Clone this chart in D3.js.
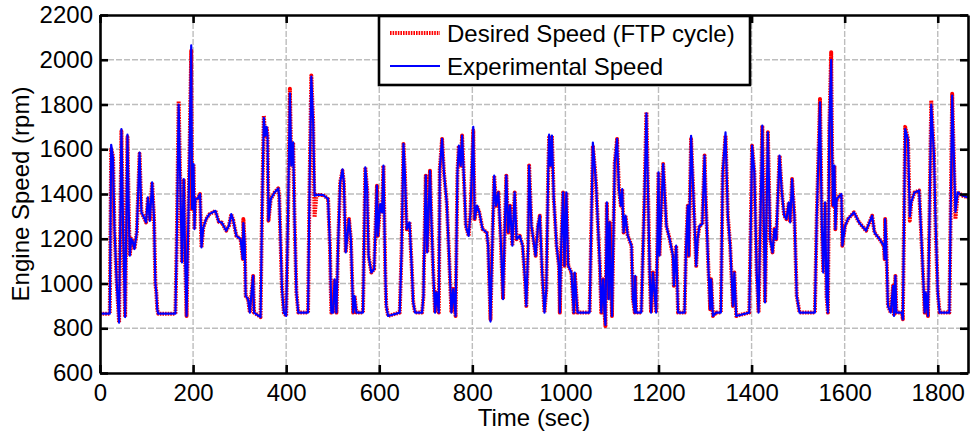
<!DOCTYPE html>
<html>
<head>
<meta charset="utf-8">
<script src="https://cdn.jsdelivr.net/npm/d3@7"></script>
<style>
  body { margin: 0; background: #fff; }
  svg { font-family: "Liberation Sans", Arial, sans-serif; }
</style>
</head>
<body>
<svg id="chart" width="970" height="435"></svg>
<script>
// time stamps (s), shared by both traces
const timeSec = [
  0, 21, 24, 28, 31, 36, 41, 46, 50, 54,
  59, 62, 64, 67, 70, 74, 79, 85, 89, 96,
  99, 103, 107, 112, 116, 119, 121, 123, 125, 162,
  165, 169, 173, 176, 180, 183, 186, 190, 196, 198,
  201, 203, 205, 210, 215, 218, 222, 228, 235, 248,
  255, 262, 271, 277, 282, 286, 293, 302, 307, 308,
  311, 313, 318, 322, 325, 329, 331, 345, 348, 352,
  355, 358, 360, 362, 367, 375, 383, 385, 391, 395,
  400, 404, 408, 411, 415, 418, 422, 426, 447, 450,
  454, 458, 461, 465, 479, 486, 490, 494, 496, 497,
  501, 504, 508, 512, 516, 521, 524, 528, 535, 539,
  544, 547, 551, 565, 570, 574, 577, 583, 589, 595,
  597, 602, 606, 609, 613, 615, 619, 644, 648, 652,
  655, 659, 665, 670, 673, 677, 692, 695, 696, 700,
  703, 709, 712, 716, 720, 723, 728, 730, 735, 739,
  745, 750, 755, 759, 764, 768, 771, 775, 778, 782,
  786, 792, 796, 802, 805, 810, 815, 822, 831, 834,
  839, 843, 847, 851, 856, 861, 866, 870, 873, 877,
  881, 886, 891, 895, 902, 908, 913, 916, 920, 922,
  927, 936, 941, 945, 950, 955, 959, 963, 965, 968,
  971, 975, 981, 986, 988, 991, 995, 998, 1002, 1006,
  1013, 1018, 1020, 1026, 1052, 1059, 1064, 1066, 1074, 1077,
  1081, 1084, 1086, 1089, 1093, 1095, 1100, 1106, 1111, 1115,
  1119, 1122, 1125, 1129, 1134, 1142, 1145, 1149, 1150, 1152,
  1163, 1170, 1174, 1181, 1184, 1188, 1195, 1200, 1202, 1210,
  1217, 1224, 1231, 1233, 1238, 1242, 1256, 1259, 1263, 1265,
  1270, 1277, 1281, 1284, 1288, 1294, 1299, 1302, 1307, 1311,
  1313, 1317, 1324, 1334, 1338, 1344, 1349, 1354, 1360, 1363,
  1367, 1395, 1399, 1401, 1406, 1411, 1415, 1423, 1429, 1435,
  1440, 1445, 1449, 1453, 1460, 1465, 1470, 1475, 1480, 1483,
  1487, 1492, 1497, 1503, 1536, 1540, 1547, 1551, 1554, 1558,
  1561, 1564, 1567, 1571, 1573, 1575, 1578, 1580, 1583, 1589,
  1593, 1595, 1601, 1607, 1620, 1631, 1646, 1659, 1664, 1675,
  1684, 1686, 1687, 1689, 1693, 1699, 1704, 1706, 1709, 1711,
  1723, 1725, 1730, 1736, 1740, 1743, 1750, 1760, 1765, 1772,
  1774, 1779, 1786, 1792, 1795, 1800, 1804, 1825, 1831, 1838,
  1843, 1854, 1865
];

// desired engine speed, FTP cycle (rpm)
const desiredRpm = [
  865, 865, 1600, 1570, 1243, 1000, 825, 1680, 1200, 850,
  1655, 1300, 1124, 1200, 1190, 1154, 1228, 1580, 1318, 1288,
  1273, 1385, 1280, 1452, 1296, 1000, 960, 885, 865, 865,
  1200, 1815, 1400, 1094, 1467, 1100, 855, 1300, 2040, 1333,
  1534, 1243, 1378, 1380, 1400, 1161, 1250, 1288, 1310, 1325,
  1276, 1272, 1236, 1258, 1310, 1285, 1213, 1198, 1109, 1288,
  1180, 945, 930, 870, 944, 1034, 870, 850, 1300, 1751,
  1661, 1700, 1661, 1281, 1378, 1407, 1425, 1392, 975, 870,
  855, 1300, 1870, 1527, 1631, 1288, 960, 870, 870, 1400,
  1930, 1721, 1296, 1396, 1396, 1385, 1378, 1169, 960, 870,
  870, 1019, 870, 1200, 1452, 1504, 1452, 1139, 1288, 1200,
  870, 944, 870, 870, 1519, 1422, 1124, 1049, 1064, 1437,
  1213, 1355, 1318, 1527, 1049, 900, 855, 870, 1150, 1624,
  1497, 1243, 1273, 1064, 915, 870, 870, 944, 1079, 1482,
  1139, 1504, 1288, 1049, 870, 960, 870, 1512, 1646, 1497,
  1363, 1124, 870, 975, 855, 1497, 1616, 1527, 1661, 1467,
  1258, 1213, 1318, 1684, 1288, 1348, 1318, 1243, 1228, 1169,
  840, 1184, 1482, 1348, 1407, 1198, 930, 1273, 1482, 1228,
  1348, 1169, 1407, 1198, 1213, 1169, 1019, 900, 1169, 1527,
  1258, 1124, 1258, 1303, 1049, 870, 975, 1497, 1654, 1527,
  1661, 1378, 1169, 1079, 870, 1169, 1407, 1079, 1407, 1079,
  1049, 870, 1049, 870, 870, 1616, 1497, 1437, 1079, 870,
  1019, 870, 810, 1363, 930, 1273, 855, 1542, 1646, 1422,
  1348, 1422, 1228, 1303, 1213, 1169, 930, 870, 1034, 870,
  870, 1400, 1766, 1049, 870, 1049, 870, 1497, 1124, 1534,
  1258, 1198, 1124, 990, 1169, 870, 870, 1150, 1348, 1124,
  1646, 1288, 1079, 1198, 1258, 1265, 1572, 1348, 1079, 885,
  1019, 855, 870, 870, 1497, 1661, 1303, 1169, 900, 1049,
  855, 870, 1348, 1616, 1497, 1049, 870, 1706, 915, 1676,
  1198, 1139, 1243, 1198, 1572, 1407, 1303, 1288, 1363, 1273,
  1467, 1303, 945, 870, 870, 1300, 1825, 1258, 1049, 1363,
  945, 870, 1700, 2034, 1591, 1348, 1527, 1243, 1378, 1392,
  1400, 1169, 1258, 1288, 1318, 1273, 1236, 1303, 1228, 1198,
  1169, 1109, 1288, 1198, 900, 870, 990, 855, 1034, 870,
  870, 840, 1700, 1646, 1281, 1363, 1407, 1415, 1198, 870,
  960, 855, 1818, 1572, 1273, 960, 870, 870, 1848, 1288,
  1407, 1392, 1385
];

// measured engine speed (rpm)
const experimentalRpm = [
  865, 865, 1620, 1560, 1250, 1000, 825, 1690, 1200, 850,
  1665, 1300, 1124, 1200, 1190, 1154, 1228, 1585, 1318, 1288,
  1273, 1385, 1280, 1452, 1296, 1000, 960, 885, 865, 865,
  1200, 1800, 1400, 1094, 1467, 1100, 855, 1300, 2064, 1333,
  1534, 1243, 1378, 1380, 1400, 1161, 1250, 1288, 1310, 1325,
  1276, 1272, 1236, 1258, 1310, 1285, 1213, 1198, 1109, 1270,
  1180, 945, 930, 870, 944, 1034, 870, 850, 1300, 1740,
  1661, 1700, 1661, 1281, 1378, 1407, 1425, 1392, 975, 870,
  855, 1300, 1850, 1527, 1631, 1288, 960, 870, 870, 1400,
  1925, 1721, 1392, 1396, 1396, 1385, 1378, 1169, 960, 870,
  870, 1019, 870, 1200, 1452, 1510, 1452, 1139, 1288, 1200,
  870, 944, 870, 870, 1519, 1422, 1124, 1049, 1064, 1437,
  1213, 1355, 1318, 1527, 1049, 900, 855, 870, 1150, 1624,
  1497, 1243, 1273, 1064, 915, 870, 870, 944, 1079, 1482,
  1139, 1504, 1288, 1049, 870, 960, 870, 1512, 1646, 1497,
  1363, 1124, 870, 975, 855, 1497, 1616, 1527, 1661, 1467,
  1258, 1213, 1318, 1700, 1288, 1348, 1318, 1243, 1228, 1169,
  830, 1184, 1482, 1348, 1407, 1198, 930, 1273, 1482, 1228,
  1348, 1169, 1407, 1198, 1213, 1169, 1019, 900, 1169, 1527,
  1258, 1124, 1258, 1303, 1049, 870, 975, 1497, 1665, 1527,
  1661, 1378, 1169, 1079, 870, 1169, 1407, 1079, 1407, 1079,
  1049, 870, 1049, 870, 870, 1630, 1497, 1437, 1079, 870,
  1019, 870, 815, 1363, 930, 1273, 855, 1542, 1646, 1422,
  1348, 1422, 1228, 1303, 1213, 1169, 930, 870, 1034, 870,
  870, 1400, 1760, 1049, 870, 1049, 870, 1497, 1124, 1534,
  1258, 1198, 1124, 990, 1169, 870, 870, 1150, 1348, 1124,
  1660, 1288, 1079, 1198, 1258, 1265, 1572, 1348, 1079, 885,
  1019, 855, 870, 870, 1497, 1675, 1303, 1169, 900, 1049,
  855, 870, 1348, 1616, 1497, 1049, 870, 1706, 915, 1676,
  1198, 1139, 1243, 1198, 1572, 1407, 1303, 1288, 1363, 1273,
  1467, 1303, 945, 870, 870, 1300, 1810, 1258, 1049, 1363,
  945, 870, 1700, 2000, 1591, 1348, 1527, 1243, 1378, 1392,
  1400, 1169, 1258, 1288, 1318, 1273, 1236, 1303, 1228, 1198,
  1169, 1109, 1288, 1198, 900, 870, 990, 855, 1034, 870,
  870, 840, 1690, 1646, 1300, 1363, 1407, 1415, 1198, 870,
  960, 855, 1800, 1572, 1300, 960, 870, 870, 1840, 1320,
  1407, 1392, 1385
];

const xTicks = [0, 200, 400, 600, 800, 1000, 1200, 1400, 1600, 1800];
const yTicks = [600, 800, 1000, 1200, 1400, 1600, 1800, 2000, 2200];
const seriesNames = ["Desired Speed (FTP cycle)", "Experimental Speed"];

const plot = { left: 100, right: 968, top: 15, bottom: 373 };
const fontSize = 24;
const plain = d3.format("d");

const svg = d3.select("#chart");

const x = d3.scaleLinear().domain([0, 1865]).range([plot.left, plot.right]);
const y = d3.scaleLinear().domain([600, 2200]).range([plot.bottom, plot.top]);

// dashed grid
const grid = svg.append("g").attr("class", "grid")
  .style("stroke", "#bdbdbd")
  .style("stroke-width", 1.4)
  .style("stroke-dasharray", "6,2");

grid.selectAll(".gx")
  .data(xTicks.slice(1))
  .join("line")
  .attr("x1", d => x(d)).attr("x2", d => x(d))
  .attr("y1", plot.top).attr("y2", plot.bottom);

grid.selectAll(".gy")
  .data(yTicks.slice(1, -1))
  .join("line")
  .attr("x1", plot.left).attr("x2", plot.right)
  .attr("y1", d => y(d)).attr("y2", d => y(d));

// traces, clipped to the axes box
svg.append("clipPath").attr("id", "plot-clip")
  .append("rect")
  .attr("x", plot.left).attr("y", plot.top)
  .attr("width", plot.right - plot.left)
  .attr("height", plot.bottom - plot.top);

const line = d3.line()
  .x((d, i) => x(timeSec[i]))
  .y(d => y(d));

const traces = svg.append("g").attr("clip-path", "url(#plot-clip)");

traces.append("path")
  .datum(desiredRpm)
  .attr("d", line)
  .style("fill", "none")
  .style("stroke", "#ff0000")
  .style("stroke-width", 4)
  .style("stroke-dasharray", "1.6,1")
  .style("stroke-linejoin", "round");

traces.append("path")
  .datum(experimentalRpm)
  .attr("d", line)
  .style("fill", "none")
  .style("stroke", "#0000ff")
  .style("stroke-width", 2.2)
  .style("stroke-linejoin", "round");

// axes: inward ticks on all four sides, labels bottom and left
function styleAxis(g) {
  g.select(".domain").style("stroke", "#000").style("stroke-width", 2.6);
  g.selectAll(".tick line").style("stroke", "#000").style("stroke-width", 2.6);
  g.selectAll(".tick text")
    .style("font-size", fontSize + "px")
    .style("font-family", "'Liberation Sans', Arial, sans-serif")
    .style("fill", "#000");
}

svg.append("g")
  .attr("transform", `translate(0,${plot.bottom})`)
  .call(d3.axisBottom(x).tickValues(xTicks).tickFormat(plain)
    .tickSizeInner(-8).tickSizeOuter(0).tickPadding(11))
  .call(styleAxis);

svg.append("g")
  .attr("transform", `translate(0,${plot.top})`)
  .call(d3.axisTop(x).tickValues(xTicks).tickSizeInner(-8).tickSizeOuter(0).tickFormat(""))
  .call(styleAxis);

svg.append("g")
  .attr("transform", `translate(${plot.left},0)`)
  .call(d3.axisLeft(y).tickValues(yTicks).tickFormat(plain)
    .tickSizeInner(-8).tickSizeOuter(0).tickPadding(7))
  .call(styleAxis);

svg.append("g")
  .attr("transform", `translate(${plot.right},0)`)
  .call(d3.axisRight(y).tickValues(yTicks).tickSizeInner(-8).tickSizeOuter(0).tickFormat(""))
  .call(styleAxis);

// axis titles
svg.append("text")
  .attr("x", (plot.left + plot.right) / 2)
  .attr("y", 426)
  .attr("text-anchor", "middle")
  .style("font-size", fontSize + "px")
  .text("Time (sec)");

svg.append("text")
  .attr("transform", `translate(29,${(plot.top + plot.bottom) / 2}) rotate(-90)`)
  .attr("text-anchor", "middle")
  .style("font-size", fontSize + "px")
  .text("Engine Speed (rpm)");

// legend
const legend = svg.append("g").attr("class", "legend");

legend.append("rect")
  .attr("x", 379).attr("y", 16)
  .attr("width", 371).attr("height", 69)
  .style("fill", "#fff")
  .style("stroke", "#000")
  .style("stroke-width", 2.6);

const legendRows = legend.selectAll(".legend_row")
  .data(seriesNames)
  .join("g")
  .attr("class", "legend_row")
  .attr("transform", (d, i) => `translate(390, ${33 + i * 33})`);

legendRows.append("line")
  .attr("x1", 0).attr("x2", 50)
  .attr("y1", 0).attr("y2", 0)
  .style("stroke", (d, i) => (i === 0 ? "#ff0000" : "#0000ff"))
  .style("stroke-width", (d, i) => (i === 0 ? 4 : 1.8))
  .style("stroke-dasharray", (d, i) => (i === 0 ? "1.6,1" : null));

legendRows.append("text")
  .attr("x", 57)
  .attr("y", 9)
  .style("font-size", fontSize + "px")
  .text(d => d);
</script>
</body>
</html>
